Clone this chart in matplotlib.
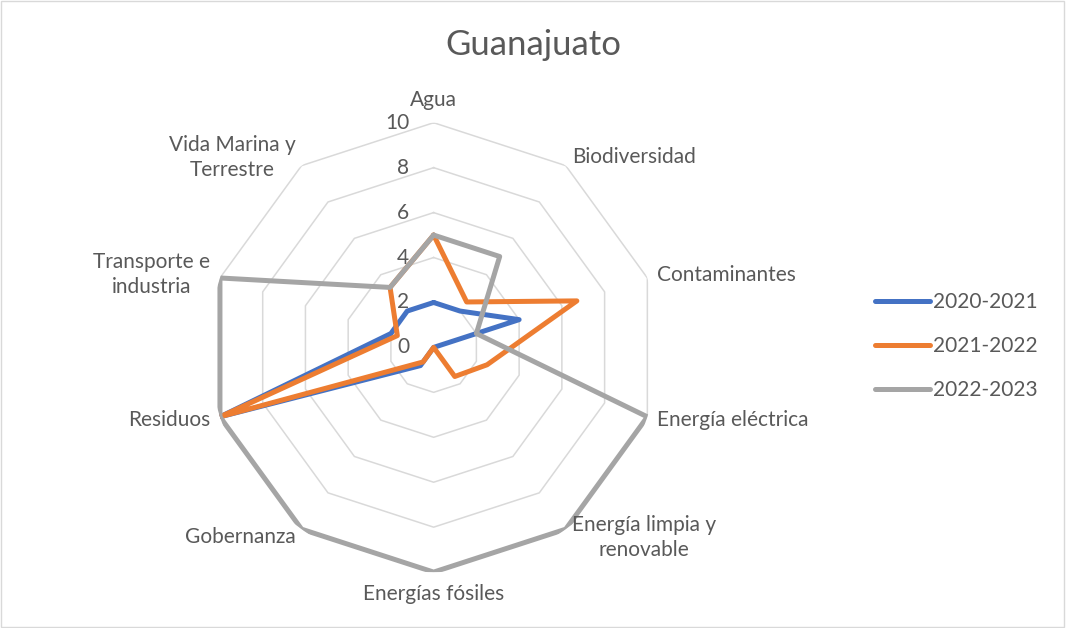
import numpy as np
import matplotlib
matplotlib.use('Agg')
import matplotlib.pyplot as plt
from matplotlib.patches import Rectangle

# categories clockwise from the top
categories = ['Agua', 'Biodiversidad', 'Contaminantes', 'Energía eléctrica',
              'Energía limpia y\nrenovable', 'Energías fósiles', 'Gobernanza',
              'Residuos', 'Transporte e\nindustria', 'Vida Marina y\nTerrestre']
series_names = ['2020-2021', '2021-2022', '2022-2023']
v2020 = [2, 2, 4, 0, 0, 0, 1, 10, 2, 2]
v2021 = [5, 2.5, 6.7, 2.5, 1.6, 0, 0.8, 10, 1.7, 3.3]
v2022 = [5, 5, 2, 10, 10, 10, 10, 10, 10, 3.3]
ticks = [0, 2, 4, 6, 8, 10]

colors = ['#4472C4', '#ED7D31', '#A5A5A5']
txt = '#595959'
plt.rcParams['font.family'] = ['Lato', 'DejaVu Sans']

fig = plt.figure(figsize=(10.66, 6.28), dpi=100)
ax = fig.add_axes([0.196, 0.089, 0.4216, 0.7156], projection='polar')
ax.set_theta_zero_location('N')
ax.set_theta_direction(-1)
ax.set_ylim(0, 10)
ax.grid(False)
ax.spines['polar'].set_visible(False)
ax.set_xticks([])
ax.set_yticks([])
ax.patch.set_alpha(0)

n = len(categories)
theta = np.arange(n) * 2 * np.pi / n
closed = np.append(theta, theta[0])

# polygon rings
for t in ticks[1:]:
    ax.plot(closed, [t] * (n + 1), color='#D9D9D9', lw=1.1, zorder=1)

# series
for vals, name, c in zip([v2020, v2021, v2022], series_names, colors):
    ax.plot(closed, vals + vals[:1], color=c, lw=3.6, label=name,
            solid_joinstyle='round', solid_capstyle='round', zorder=3)

# radial tick labels
for t in ticks:
    ax.annotate(str(t), xy=(0, t), xytext=(-17.5, 0), textcoords='offset points',
                ha='right', va='center', fontsize=15, color=txt, zorder=4)

# category labels
for th, lab in zip(theta, categories):
    s = np.sin(th)
    if abs(s) < 1e-6:
        ha = 'center'
        va = 'bottom' if np.cos(th) > 0 else 'top'
        r = 10.55
    else:
        ha = 'left' if s > 0 else 'right'
        va = 'center'
        r = 10.45
    ax.text(th, r, lab, ha=ha, va=va, fontsize=15, color=txt,
            multialignment='center', linespacing=1.3)

fig.text(0.5, 0.928, 'Guanajuato', ha='center', va='center', fontsize=25, color=txt)

leg = fig.legend(loc='center left', bbox_to_anchor=(875 / 1066, 1 - 346 / 628),
                 frameon=False, fontsize=15, handlelength=2.65, handletextpad=0.15,
                 labelspacing=1.15, borderpad=0, borderaxespad=0)
for t in leg.get_texts():
    t.set_color(txt)

fig.patches.append(Rectangle((0.001, 0.001), 0.997, 0.997, transform=fig.transFigure,
                             fill=False, edgecolor='#D9D9D9', lw=1))

fig.savefig('out.png', dpi=100)
